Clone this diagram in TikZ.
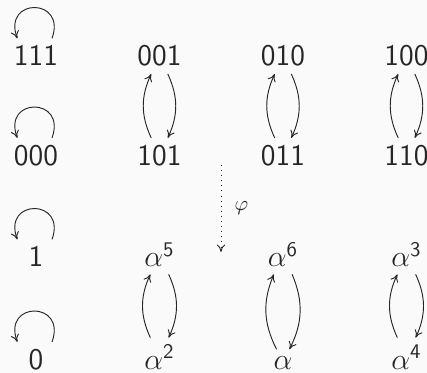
\documentclass[tikz,border=0pt]{standalone}
\usepackage{amsmath}
\usetikzlibrary{arrows.meta}
\definecolor{ink}{HTML}{262626}
\definecolor{bgc}{HTML}{FAFAFA}
\tikzset{
  lbl/.style={font=\Large\sffamily, text=ink, anchor=base},
  arr/.style={-{Computer Modern Rightarrow[length=3.6pt, width=4pt]}, draw=ink, line width=0.45pt},
  pairbend/.style={bend left=25},
  selfloop/.style={out=70, in=110, distance=21pt}
}
\begin{document}
\begin{tikzpicture}[x=0.4808pt, y=0.4808pt]
\useasboundingbox (0,0) rectangle (427,373);
\fill[bgc] (0,0) rectangle (427,373);
% row 1
\node[lbl] (n111) at (36,307) {111};
\node[lbl] (n001) at (159.5,307) {001};
\node[lbl] (n010) at (283,307) {010};
\node[lbl] (n100) at (406.5,307) {100};
% row 2
\node[lbl] (n000) at (36,207.5) {000};
\node[lbl] (n101) at (159.5,207.5) {101};
\node[lbl] (n011) at (283,207.5) {011};
\node[lbl] (n110) at (406.5,207.5) {110};
% row 3
\node[lbl] (m1) at (36,106) {1};
\node[lbl] (a5) at (159.5,106) {$\alpha^{\mathsf{5}}$};
\node[lbl] (a6) at (283,106) {$\alpha^{\mathsf{6}}$};
\node[lbl] (a3) at (406.5,106) {$\alpha^{\mathsf{3}}$};
% row 4
\node[lbl] (m0) at (36,3.5) {0};
\node[lbl] (a2) at (159.5,3.5) {$\alpha^{\mathsf{2}}$};
\node[lbl] (a1) at (283,3.5) {$\alpha$};
\node[lbl] (a4) at (406.5,3.5) {$\alpha^{\mathsf{4}}$};
% loops
\foreach \n in {n111,n000,m1,m0}{
  \draw[arr] ([xshift=7.7pt]\n.north) to[selfloop] ([xshift=-9pt]\n.north);
}
% pairs
\foreach \u/\d in {n001/n101,n010/n011,n100/n110,a5/a2,a6/a1,a3/a4}{
  \draw[arr] (\d) to[pairbend] (\u);
  \draw[arr] (\u) to[pairbend] (\d);
}
% phi
\coordinate (phiA) at (221,208);
\coordinate (phiB) at (221,121);
\draw[arr, dotted] (phiA) -- node[right=3pt, text=ink, font=\normalsize] {$\varphi$} (phiB);
\end{tikzpicture}
\end{document}
